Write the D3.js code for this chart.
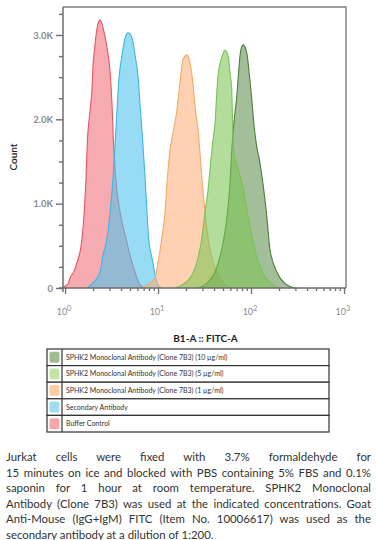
<!DOCTYPE html>
<html lang="en">
<head>
  <meta charset="UTF-8">
  <title>SPHK2 flow histogram</title>
  <script src="https://cdn.jsdelivr.net/npm/d3@7"></script>
  <style>
    body { margin: 0; background: #fff; font-family: Lato, "Open Sans", sans-serif; }
    #wrap { position: relative; width: 377px; height: 540px; }
    #svg { position: absolute; left: 0; top: 0; }
    #caption {
      position: absolute; left: 6px; top: 449px; width: 365px;
      font-size: 11.4px; line-height: 15.5px; color: #333;
    }
    #caption div { text-align: justify; text-align-last: justify; white-space: nowrap; }
    #caption div.last { text-align-last: left; }
  </style>
</head>
<body>
<div id="wrap">
  <svg id="svg" width="377" height="445"></svg>
  <div id="caption"></div>
</div>

<script>
  // histogram points: [FITC-A, count]
  const bufferControl = [[0.95,10],[1.08,50],[1.13,119],[1.25,200],[1.35,308],[1.49,510],[1.56,712],
    [1.61,920],[1.68,1305],[1.73,1696],[1.86,2111],[1.95,2372],[2.0,2645],[2.06,2800],[2.21,3084],
    [2.38,3179],[2.56,3084],[2.83,2847],[3.05,2562],[3.2,2171],[3.3,1779],[3.38,1560],[3.5,1305],
    [3.9,901],[4.42,629],[5.0,391],[5.65,190],[6.4,36],[7.2,0]]
  const secondaryAb = [[1.72,0],[2.0,60],[2.38,190],[2.56,391],[2.83,593],[3.05,901],[3.28,1305],
    [3.45,1696],[3.62,2111],[3.81,2500],[4.1,2764],[4.42,2966],[4.75,3025],[5.25,2966],[5.65,2764],
    [6.1,2500],[6.4,2170],[6.8,1780],[7.25,1305],[7.6,901],[7.9,593],[8.6,356],
    [9.3,154],[10,36],[11,0]]
  const sphk2_1 = [[6.9,0],[8.2,60],[9.3,119],[10,308],[11,593],[11.9,901],[12.5,1250],[13.4,1620],
    [14.6,1860],[16,2120],[17.2,2432],[18.6,2710],[20.5,2764],[22,2669],[23.7,2432],[25,2146],
    [26.9,1875],[28.1,1637],[29.6,1305],[32,901],[34.5,593],[38,356],[44,154],[52.4,36],[62,0]]
  const sphk2_5 = [[15.2,0],[18.1,36],[23.2,154],[26.9,356],[29.6,593],[32,901],[34.5,1163],
    [37,1518],[39,1756],[41,1957],[43,2349],[44.5,2550],[48.7,2740],[52.4,2823],[56.8,2740],
    [59.4,2550],[62,2349],[63.2,2000],[65,1637],[72,1420],[80,1246],[93,842],[110,451],[134,178],
    [172,36],[205,0]]
  const sphk2_10 = [[26.2,0],[33.6,59],[43,249],[50,534],[55,842],[59.4,1246],[62,1637],[65.5,1957],
    [70.6,2300],[74,2600],[77,2800],[82,2883],[90,2788],[95.4,2550],[102,2230],[107,1957],
    [115,1680],[123,1520],[134,1246],[148,842],[160,451],[192,178],[243,36],[298,0]]

  const seriesNames = [
    "SPHK2 Monoclonal Antibody (Clone 7B3) (10 µg/ml)",
    "SPHK2 Monoclonal Antibody (Clone 7B3) (5 µg/ml)",
    "SPHK2 Monoclonal Antibody (Clone 7B3) (1 µg/ml)",
    "Secondary Antibody",
    "Buffer Control"
  ]
  const seriesData = [sphk2_10, sphk2_5, sphk2_1, secondaryAb, bufferControl]
  const fills = ["#5f9150", "#7cc452", "#fdb07a", "#4cc3ec", "#ef6f78"]
  const strokes = ["#4a7d3a", "#79c257", "#f4a965", "#3db6e2", "#e65761"]
  const swatches = ["#9ebc8e", "#c5e3a9", "#fecda4", "#9edcf2", "#f5a8ac"]
  const drawOrder = [4, 3, 2, 0, 1]

  const yMajor = [0, 1000, 2000, 3000]
  const yMajorLabels = ["0", "1.0K", "2.0K", "3.0K"]
  const yMinor = [250, 500, 750, 1250, 1500, 1750, 2250, 2500, 2750, 3250]
  const xMajor = [1, 10, 100, 1000]
  const xMajorExp = ["0", "1", "2", "3"]

  const captionLines = [
    "Jurkat cells were fixed with 3.7% formaldehyde for",
    "15 minutes on ice and blocked with PBS containing 5% FBS and 0.1%",
    "saponin for 1 hour at room temperature. SPHK2 Monoclonal",
    "Antibody (Clone 7B3) was used at the indicated concentrations. Goat",
    "Anti-Mouse (IgG+IgM) FITC (Item No. 10006617) was used as the",
    "secondary antibody at a dilution of 1:200."
  ]

  const plotL = 63, plotR = 346, plotT = 7, plotB = 288

  const xscale = d3.scaleLog().domain([0.95, 1050]).range([plotL, plotR])
  const yscale = d3.scaleLinear().domain([0, 3332]).range([plotB, plotT])

  const svg = d3.select("#svg")

  // histograms
  const area = d3.area()
    .x(d => xscale(d[0]))
    .y0(yscale(0))
    .y1(d => yscale(d[1]))
    .curve(d3.curveMonotoneX)

  const line = d3.line()
    .x(d => xscale(d[0]))
    .y(d => yscale(d[1]))
    .curve(d3.curveMonotoneX)

  drawOrder.forEach(i => {
    svg.append("path")
      .datum(seriesData[i])
      .attr("d", area)
      .attr("fill", fills[i])
      .attr("fill-opacity", 0.58)
    svg.append("path")
      .datum(seriesData[i])
      .attr("d", line)
      .attr("fill", "none")
      .attr("stroke", strokes[i])
      .attr("stroke-width", 1.1)
  })

  const axisColor = "#6e6e6e"

  // frame top + right
  svg.append("path")
    .attr("d", `M${plotL},${plotT}H${plotR}V${plotB}`)
    .attr("fill", "none")
    .attr("stroke", "#7e7e7e")
    .attr("stroke-width", 1.4)

  // y axis
  const yAxisMajor = svg.append("g")
    .attr("transform", `translate(${plotL},0)`)
    .call(d3.axisLeft(yscale).tickValues(yMajor).tickSize(7).tickSizeOuter(0)
      .tickFormat((d, i) => yMajorLabels[i]))
  const yAxisMinor = svg.append("g")
    .attr("transform", `translate(${plotL},0)`)
    .call(d3.axisLeft(yscale).tickValues(yMinor).tickSize(4).tickFormat(""))
  ;[yAxisMajor, yAxisMinor].forEach(g => {
    g.select(".domain").remove()
    g.selectAll("line").attr("stroke", axisColor).attr("stroke-width", 1.4)
  })
  yAxisMajor.selectAll("text")
    .attr("x", -10)
    .attr("fill", "#8a8a8a")
    .style("font-family", "Lato, sans-serif")
    .style("font-weight", "bold")
    .style("font-size", "9.5px")

  // x axis
  const xMinor = []
  xMajor.slice(0, 3).forEach(m => { for (let k = 2; k <= 9; k++) xMinor.push(m * k) })
  const xAxisMajor = svg.append("g")
    .attr("transform", `translate(0,${plotB})`)
    .call(d3.axisBottom(xscale).tickValues(xMajor).tickSize(6).tickFormat(""))
  const xAxisMinor = svg.append("g")
    .attr("transform", `translate(0,${plotB})`)
    .call(d3.axisBottom(xscale).tickValues(xMinor).tickSize(3).tickFormat(""))
  ;[xAxisMajor, xAxisMinor].forEach(g => {
    g.select(".domain").remove()
    g.selectAll("line").attr("stroke", axisColor).attr("stroke-width", 1.3)
  })

  const xLab = svg.append("g")
    .selectAll("text")
    .data(xMajor)
    .join("text")
    .attr("x", d => xscale(d) - 1)
    .attr("y", plotB + 27)
    .attr("text-anchor", "middle")
    .attr("fill", "#8a8a8a")
    .style("font-family", "Lato, sans-serif")
    .style("font-size", "9px")
  xLab.append("tspan").text("10")
  xLab.append("tspan").attr("dy", -4).style("font-size", "7.5px").text((d, i) => xMajorExp[i])

  // axis lines, crossing at the origin
  svg.append("path")
    .attr("d", `M${plotL},${plotT}V${plotB + 4}M${plotL - 4},${plotB}H${plotR}`)
    .attr("fill", "none")
    .attr("stroke", axisColor)
    .attr("stroke-width", 1.5)

  // axis titles
  svg.append("text")
    .attr("transform", `translate(16.5,157) rotate(-90)`)
    .attr("text-anchor", "middle")
    .attr("fill", "#222")
    .style("font-family", "Lato, sans-serif")
    .style("font-size", "10px")
    .style("font-weight", "600")
    .text("Count")

  svg.append("text")
    .attr("x", (plotL + plotR) / 2 + 1)
    .attr("y", 342)
    .attr("text-anchor", "middle")
    .attr("fill", "#222")
    .style("font-family", "Lato, sans-serif")
    .style("font-size", "10px")
    .style("font-weight", "bold")
    .text("B1-A :: FITC-A")

  // legend
  const legX0 = 47, legX1 = 329, legY0 = 349, rowH = 16.6, swW = 15
  const rows = svg.append("g")
    .selectAll("g")
    .data(seriesNames)
    .join("g")
    .attr("transform", (d, i) => `translate(${legX0},${legY0 + i * rowH})`)
  rows.append("rect")
    .attr("width", legX1 - legX0)
    .attr("height", rowH)
    .attr("fill", "#fff")
    .attr("stroke", "#333")
    .attr("stroke-width", 1.2)
  rows.append("line")
    .attr("x1", swW).attr("x2", swW)
    .attr("y1", 0).attr("y2", rowH)
    .attr("stroke", "#333")
    .attr("stroke-width", 1.2)
  rows.append("rect")
    .attr("x", 2.5)
    .attr("y", 2.8)
    .attr("width", 10)
    .attr("height", 11)
    .attr("rx", 2)
    .attr("fill", (d, i) => swatches[i])
  rows.append("text")
    .attr("x", swW + 4)
    .attr("y", rowH / 2 + 2.5)
    .attr("fill", "#333")
    .style("font-family", "Lato, sans-serif")
    .style("font-size", "7px")
    .text(d => d)

  // caption
  d3.select("#caption")
    .selectAll("div")
    .data(captionLines)
    .join("div")
    .attr("class", (d, i) => i === captionLines.length - 1 ? "last" : null)
    .text(d => d)
</script>
</body>
</html>
